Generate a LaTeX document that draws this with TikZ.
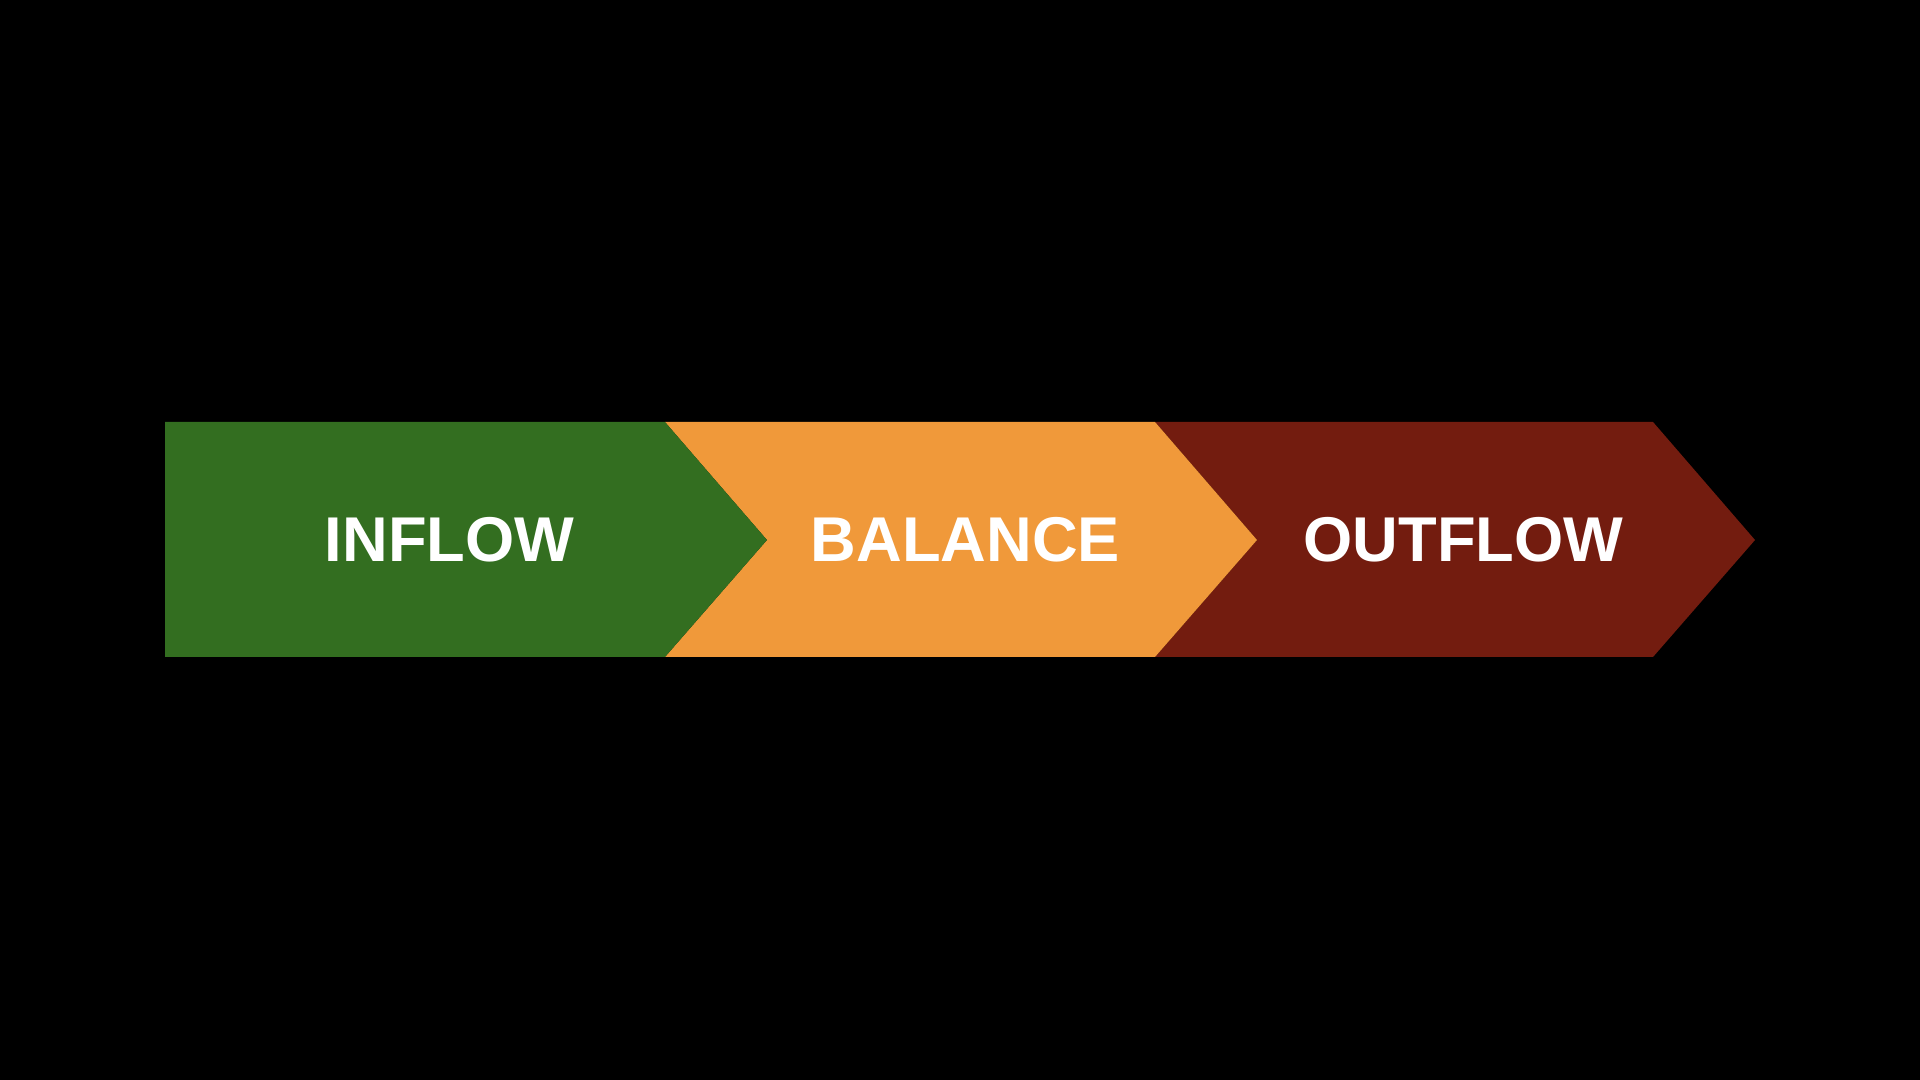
\documentclass[tikz,border=0pt]{standalone}
\usepackage{fontspec}
\setmainfont{Liberation Sans}
\definecolor{inflowgreen}{RGB}{51,110,32}
\definecolor{balanceorange}{RGB}{240,153,58}
\definecolor{outflowred}{RGB}{115,28,15}
\tikzset{label text/.style={text=white, font=\fontsize{18}{20}\selectfont\bfseries, inner sep=0pt}}
\begin{document}
\begin{tikzpicture}
				\fill[black] (0,0) rectangle (19.2,10.8);
				\useasboundingbox (0,0) rectangle (19.2,10.8);
				
				\coordinate[](gtl) at (1.65,6.58) ;
				\coordinate[](gbl) at (1.65,4.23) ;
				\coordinate[](otl) at (6.65,6.58) ;
				\coordinate[](obl) at (6.65,4.23) ;
				\coordinate[](gtip) at (7.67,5.40) ;
				\coordinate[](rtl) at (11.55,6.58) ;
				\coordinate[](rbl) at (11.55,4.23) ;
				\coordinate[](otip) at (12.57,5.40) ;
				\coordinate[](rtr) at (16.53,6.58) ;
				\coordinate[](rbr) at (16.53,4.23) ;
				\coordinate[](rtip) at (17.55,5.40) ;
				
				\fill[outflowred] (rtl) -- (rtr) -- (rtip) -- (rbr) -- (rbl) -- (otip) -- cycle;
				\fill[balanceorange] (otl) -- (rtl) -- (otip) -- (rbl) -- (obl) -- (gtip) -- cycle;
				\fill[inflowgreen] (gtl) -- (otl) -- (gtip) -- (obl) -- (gbl) -- cycle;
				
				\node[label text](inflow) at (4.495,5.40) {INFLOW};
				\node[label text](balance) at (9.655,5.40) {BALANCE};
				\node[label text](outflow) at (14.635,5.40) {OUTFLOW};
				\end{tikzpicture}
\end{document}
